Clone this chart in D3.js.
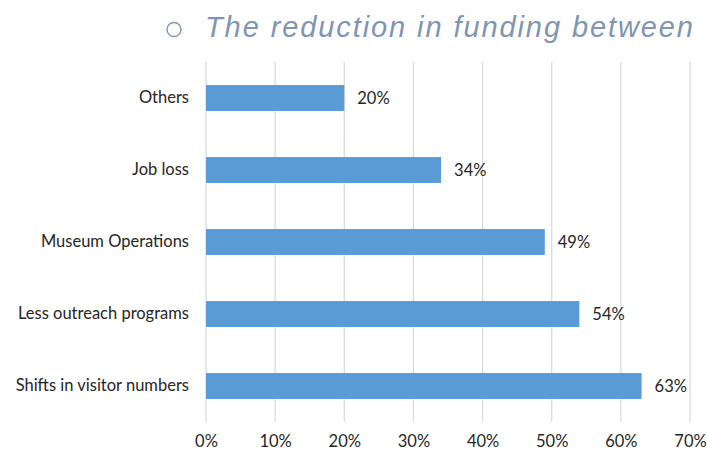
<!DOCTYPE html>
<html>
<head>
<meta charset="utf-8">
<script src="https://cdn.jsdelivr.net/npm/d3@7"></script>
<style>
  html, body { margin: 0; padding: 0; background: #fff; }
  svg { display: block; }
</style>
</head>
<body>
<svg id="chart" width="707" height="452"></svg>
<script>
// Reported effects, top to bottom
const categories = ["Others", "Job loss", "Museum Operations", "Less outreach programs", "Shifts in visitor numbers"];
const values = [20, 34, 49, 54, 63];
const tickValues = [0, 10, 20, 30, 40, 50, 60, 70];
const titleText = "The reduction in funding between";

const svg = d3.select("#chart");
const margin = { top: 62, right: 17, bottom: 30, left: 206 };
const plotBottom = 422;

const x = d3.scaleLinear().domain([0, 70]).range([margin.left, 690]);
const y = d3.scaleBand().domain(categories).range([margin.top, plotBottom]).paddingInner(0.64).paddingOuter(0.32);

const font = "Lato, 'Open Sans', sans-serif";
const labelSize = 16.5;

// Heading line
svg.append("circle")
  .attr("cx", 174).attr("cy", 29.5).attr("r", 7)
  .attr("fill", "none").attr("stroke", "#8194b2").attr("stroke-width", 1.4);
svg.append("text")
  .attr("x", 205).attr("y", 37)
  .attr("font-family", "'Liberation Sans', Arial, sans-serif")
  .attr("font-style", "italic")
  .attr("font-size", 29)
  .attr("fill", "#8194b2")
  .attr("textLength", 488)
  .attr("lengthAdjust", "spacing")
  .text(titleText);

// Vertical gridlines
svg.append("g")
  .selectAll("line")
  .data(tickValues)
  .join("line")
  .attr("x1", d => x(d)).attr("x2", d => x(d))
  .attr("y1", margin.top).attr("y2", plotBottom)
  .attr("stroke", "#d9d9d9").attr("stroke-width", 1.2);

// X axis labels
const xAxis = d3.axisBottom(x).tickValues(tickValues).tickFormat(d => d + "%").tickSize(0).tickPadding(0);
const gx = svg.append("g").attr("transform", `translate(0, 435)`).call(xAxis);
gx.select(".domain").remove();
gx.selectAll("text")
  .attr("font-family", font).attr("font-size", labelSize).attr("fill", "#262626")
  .attr("dy", "0.71em");

// Y axis labels
const yAxis = d3.axisLeft(y).tickSize(0).tickPadding(17);
const gy = svg.append("g").attr("transform", `translate(${margin.left}, 0)`).call(yAxis);
gy.select(".domain").remove();
gy.selectAll("text")
  .attr("font-family", font).attr("font-size", labelSize).attr("fill", "#262626");

// Bars
const rows = categories.map((c, i) => ({ c, v: values[i] }));
svg.append("g")
  .selectAll("rect")
  .data(rows)
  .join("rect")
  .attr("x", x(0))
  .attr("y", d => y(d.c))
  .attr("width", d => x(d.v) - x(0))
  .attr("height", y.bandwidth())
  .attr("fill", "#5b9bd5");

// Value labels
svg.append("g")
  .selectAll("text")
  .data(rows)
  .join("text")
  .attr("x", d => x(d.v) + 13)
  .attr("y", d => y(d.c) + y.bandwidth() / 2)
  .attr("dy", "0.35em")
  .attr("font-family", font).attr("font-size", labelSize).attr("fill", "#262626")
  .text(d => d.v + "%");
</script>
</body>
</html>
